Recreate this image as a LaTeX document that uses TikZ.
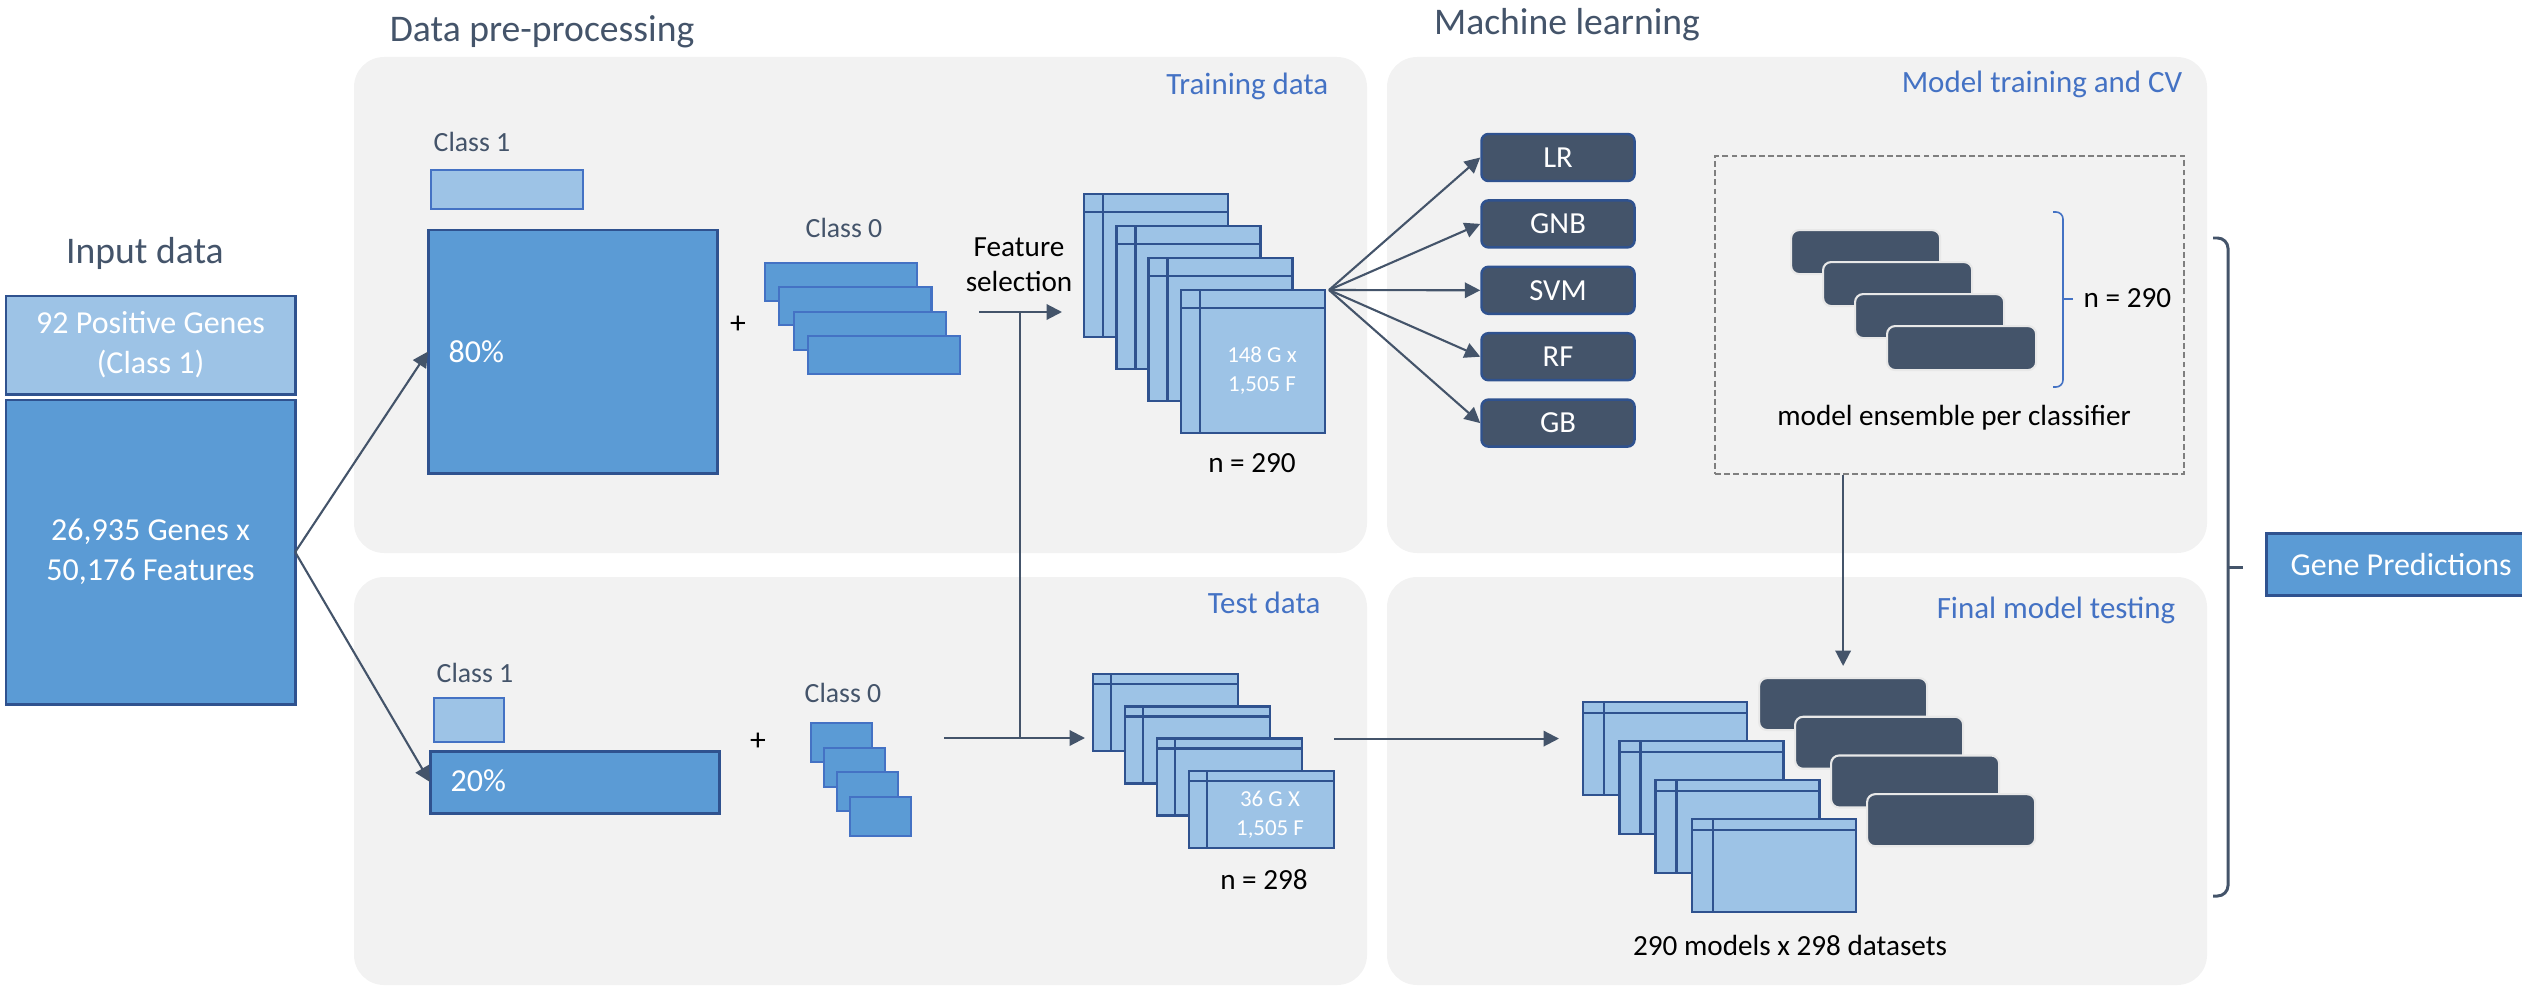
\documentclass[tikz,border=0pt]{standalone}
\usepackage{fontspec}
\setmainfont{Carlito}
\usetikzlibrary{arrows.meta,calc}

\definecolor{slate}{HTML}{44546A}
\definecolor{midblue}{HTML}{5B9BD5}
\definecolor{liteblue}{HTML}{9DC3E6}
\definecolor{darkblue}{HTML}{2F528F}
\definecolor{accent}{HTML}{4472C4}
\definecolor{panelgray}{HTML}{F2F2F2}
\definecolor{dashgray}{HTML}{7F7F7F}

\tikzset{
  ttl/.style={text=slate,font=\fontsize{10.7}{13}\selectfont,inner sep=0pt},
  lbl/.style={text=slate,font=\fontsize{7.9}{9}\selectfont,inner sep=0pt},
  sub/.style={text=accent,font=\fontsize{8.8}{10}\selectfont,inner sep=0pt,anchor=base east},
  note/.style={font=\fontsize{8.3}{10}\selectfont,inner sep=0pt},
  wtxt/.style={text=white,font=\fontsize{9.1}{11.4}\selectfont,inner sep=0pt},
  stk/.style={text=white,font=\fontsize{6.5}{8.2}\selectfont,inner sep=0pt,align=center},
  arr/.style={draw=slate,line width=0.6pt,-{Triangle[length=4.4pt,width=4.4pt]}},
  boxm/.style={draw=darkblue,fill=midblue,line width=0.85pt,inner sep=0pt,outer sep=0pt,
    text=white,font=\fontsize{9.1}{11.4}\selectfont,align=center,anchor=north west},
  boxl/.style={boxm,fill=liteblue},
  cls1/.style={draw=accent,fill=liteblue,line width=0.6pt,inner sep=0pt,anchor=north west},
  cls0/.style={draw=accent,fill=midblue,line width=0.6pt,inner sep=0pt,anchor=north west},
  sheet/.style={draw=darkblue,fill=liteblue,line width=0.7pt,inner sep=0pt,outer sep=0pt,anchor=north west},
  sheetln/.style={draw=darkblue,line width=0.7pt},
  algo/.style={draw=darkblue,fill=slate,line width=0.7pt,rounded corners=2pt,text=white,
    font=\fontsize{8.7}{10}\selectfont,minimum width=1.53cm,minimum height=0.47cm,inner sep=0pt},
  model/.style={draw=black!9,fill=slate,line width=0.6pt,rounded corners=2.3pt,inner sep=0pt,anchor=north west},
}

\begin{document}
\begin{tikzpicture}[x=0.01cm,y=-0.01cm]
  \useasboundingbox (0,0) rectangle (2522,988);
  % grey panels
  \fill[panelgray,rounded corners=0.3cm] (354,57) rectangle (1367,553);
  \fill[panelgray,rounded corners=0.3cm] (354,577) rectangle (1367,985);
  \fill[panelgray,rounded corners=0.3cm] (1387,57) rectangle (2207,553);
  \fill[panelgray,rounded corners=0.3cm] (1387,577) rectangle (2207,985);
  \node[ttl,anchor=base] (tdp) at (542,42) {Data pre-processing};
  \node[ttl,anchor=base] (tml) at (1567,35) {Machine learning};
  \node[sub] (ttr) at (1329,95) {Training data};
  \node[sub] (tte) at (1321,613) {Test data};
  \node[sub] (tmt) at (2183,93) {Model training and CV};
  \node[sub] (tfm) at (2176,618) {Final model testing};

  % input data
  \node[ttl,anchor=base] (tin) at (145,263) {Input data};
  \node[boxl,minimum width=2.89cm,minimum height=0.98cm] (pos) at (6,296) {92 Positive Genes\\(Class 1)};
  \node[boxm,minimum width=2.89cm,minimum height=3.04cm] (inp) at (6,400) {26,935 Genes x\\50,176 Features};

  % training split
  \node[lbl,anchor=base] (c1a) at (472,152) {Class 1};
  \node[cls1,minimum width=1.52cm,minimum height=0.39cm] (c1abox) at (430,169) {};
  \node[boxm,minimum width=2.89cm,minimum height=2.43cm] (tr80) at (428,230) {};
  \node[wtxt,anchor=base west] (p80) at (448,362) {80\%};
  \node[font=\fontsize{9}{10}\selectfont,inner sep=0pt] (plus1) at (738,325) {+};
  \node[lbl,anchor=base] (c0a) at (844,238) {Class 0};
  \foreach \i in {1,...,4}
    \node[cls0,minimum width=1.52cm,minimum height=0.38cm] (c0a\i) at ({764+14.3*(\i-1)},{262+24.3*(\i-1)}) {};

  % test split
  \node[lbl,anchor=base] (c1b) at (475,682) {Class 1};
  \node[cls1,minimum width=0.70cm,minimum height=0.44cm] (c1bbox) at (433,697) {};
  \node[boxm,minimum width=2.89cm,minimum height=0.62cm] (te20) at (430,751) {};
  \node[wtxt,anchor=base west] (p20) at (450,791) {20\%};
  \node[font=\fontsize{9}{10}\selectfont,inner sep=0pt] (plus2) at (758,742) {+};
  \node[lbl,anchor=base] (c0b) at (843,702) {Class 0};
  \foreach \i in {1,...,4}
    \node[cls0,minimum width=0.61cm,minimum height=0.39cm] (c0b\i) at ({810+13*(\i-1)},{722+24.5*(\i-1)}) {};

  \draw[arr] (inp.east) -- (tr80.west);
  \draw[arr] (inp.east) -- (te20.west);

  % training sets
  \foreach \i in {1,...,4}{
    \node[sheet,minimum width=1.44cm,minimum height=1.43cm] (ts\i) at ({1084+32.3*(\i-1)},{194+32*(\i-1)}) {};
    \draw[sheetln] ([xshift=0.19cm]ts\i.north west) -- ([xshift=0.19cm]ts\i.south west);
    \draw[sheetln] ([yshift=-0.18cm]ts\i.north west) -- ([yshift=-0.18cm]ts\i.north east);
  }
  \node[stk] (tsl) at (1262,371) {148 G x\\1,505 F};
  \node[note,anchor=base] (tsn) at (1252,472) {n = 290};

  % test sets
  \foreach \i in {1,...,4}{
    \node[sheet,minimum width=1.45cm,minimum height=0.77cm] (te\i) at ({1093+32*(\i-1)},{674+32.3*(\i-1)}) {};
    \draw[sheetln] ([xshift=0.18cm]te\i.north west) -- ([xshift=0.18cm]te\i.south west);
    \draw[sheetln] ([yshift=-0.10cm]te\i.north west) -- ([yshift=-0.10cm]te\i.north east);
  }
  \node[stk] (tel) at (1270,815) {36 G X\\1,505 F};
  \node[note,anchor=base] (ten) at (1264,889) {n = 298};

  % feature selection
  \node[note,align=center] (fs) at (1019,265) {Feature\\selection};
  \coordinate (fsa) at (979,312);
  \coordinate (fsv) at (1020,312);
  \coordinate (fsb) at (944,738);
  \draw[arr,shorten >=0.22cm] (fsa) -- (fsa -| ts1.west);
  \draw[draw=slate,line width=0.6pt] (fsv) -- (fsv |- fsb);
  \draw[arr,shorten >=0.08cm] (fsb) -- (fsb -| te1.west);

  % classifiers
  \foreach \n/\t [count=\k from 0] in {lr/LR,gnb/GNB,svm/SVM,rf/RF,gb/GB}
    \node[algo] (\n) at (1558,{157.5+66.4*\k}) {\t};
  \coordinate (fan) at ([xshift=0.04cm]ts4.north east);
  \foreach \n in {lr,gnb,svm,rf,gb}
    \draw[arr] (fan) -- (\n.west);

  % model ensemble
  \node[draw=dashgray,line width=0.6pt,dash pattern=on 1.7pt off 0.9pt,inner sep=0pt,
    minimum width=4.69cm,minimum height=3.18cm,anchor=north west] (ens) at (1714,155) {};
  \foreach \i in {1,...,4}
    \node[model,minimum width=1.49cm,minimum height=0.44cm] (em\i) at ({1790+32*(\i-1)},{229+32*(\i-1)}) {};
  \draw[accent,line width=0.45pt,rounded corners=2pt] (2053,212) -- (2063,212) -- (2063,387) -- (2053,387);
  \draw[accent,line width=0.6pt] (2063,299) -- (2073,299);
  \node[note,anchor=base west] (emn) at (2083,307) {n = 290};
  \node[note,anchor=base] (eml) at (1954,425) {model ensemble per classifier};

  % final testing
  \foreach \i in {1,...,4}{
    \node[sheet,minimum width=1.64cm,minimum height=0.93cm] (fd\i) at ({1583+36.3*(\i-1)},{702+39*(\i-1)}) {};
    \draw[sheetln] ([xshift=0.21cm]fd\i.north west) -- ([xshift=0.21cm]fd\i.south west);
    \draw[sheetln] ([yshift=-0.11cm]fd\i.north west) -- ([yshift=-0.11cm]fd\i.north east);
  }
  \foreach \i in {1,...,4}
    \node[model,minimum width=1.68cm,minimum height=0.52cm] (fm\i) at ({1758+36*(\i-1)},{677+38.7*(\i-1)}) {};
  \node[note,anchor=base] (fml) at (1790,955) {290 models x 298 datasets};
  \draw[arr,shorten >=0.24cm] (te4.east |- te3.north) -- (te3.north -| fd1.west);
  \draw[arr,shorten >=0.11cm] (ens.south -| fm1.north) -- (fm1.north);

  % output
  \draw[slate,line width=0.85pt,rounded corners=3pt] (2213,238) -- (2228,238) -- (2228,896) -- (2213,896);
  \draw[slate,line width=0.85pt] (2228,567) -- (2243,567);
  \node[boxm,minimum width=2.7cm,minimum height=0.62cm] (gp) at (2266,533) {Gene Predictions};
\end{tikzpicture}
\end{document}
